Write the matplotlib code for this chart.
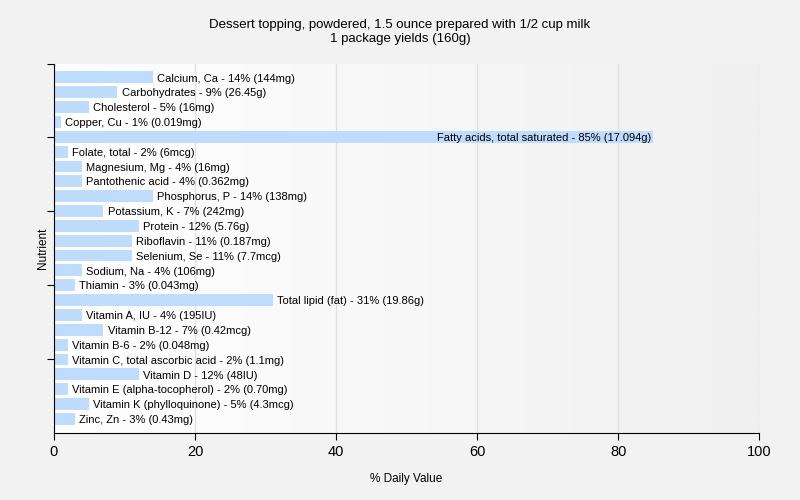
import numpy as np
from matplotlib import pyplot as plt
from matplotlib.colors import LinearSegmentedColormap

plt.rcParams['font.family'] = ['Liberation Sans', 'DejaVu Sans']

nutrients = ["Calcium, Ca", "Carbohydrates", "Cholesterol", "Copper, Cu",
             "Fatty acids, total saturated", "Folate, total", "Magnesium, Mg",
             "Pantothenic acid", "Phosphorus, P", "Potassium, K", "Protein",
             "Riboflavin", "Selenium, Se", "Sodium, Na", "Thiamin",
             "Total lipid (fat)", "Vitamin A, IU", "Vitamin B-12", "Vitamin B-6",
             "Vitamin C, total ascorbic acid", "Vitamin D",
             "Vitamin E (alpha-tocopherol)", "Vitamin K (phylloquinone)", "Zinc, Zn"]
percents = [14, 9, 5, 1, 85, 2, 4, 4, 14, 7, 12, 11, 11, 4, 3, 31, 4, 7, 2, 2, 12, 2, 5, 3]
amounts = ["144mg", "26.45g", "16mg", "0.019mg", "17.094g", "6mcg", "16mg", "0.362mg",
           "138mg", "242mg", "5.76g", "0.187mg", "7.7mcg", "106mg", "0.043mg", "19.86g",
           "195IU", "0.42mcg", "0.048mg", "1.1mg", "48IU", "0.70mg", "4.3mcg", "0.43mg"]

fig = plt.figure(figsize=(8, 5), dpi=100, facecolor="#f2f2f2")
ax = fig.add_axes([0.0675, 0.134, 0.8815, 0.738])

# gradient background, white on the left to light grey on the right
grad = np.linspace(0, 1, 256).reshape(1, -1)
bg = LinearSegmentedColormap.from_list("bg", ["#ffffff", "#f0f0f0"])
ax.imshow(grad, aspect="auto", extent=[0, 100, 23.95, -0.9], cmap=bg, zorder=0)

y = np.arange(len(nutrients))
ax.barh(y, percents, height=0.8, color="#bfdcfc", zorder=2)

for i, (n, p, a) in enumerate(zip(nutrients, percents, amounts)):
    label = f"{n} - {p}% ({a})"
    if p > 60:
        ax.text(p - 0.3, i + 0.08, label, ha="right", va="center", fontsize=8, zorder=3)
    else:
        ax.text(p + 0.6, i + 0.08, label, ha="left", va="center", fontsize=8, zorder=3)

ax.set_xlim(0, 100)
ax.set_ylim(23.95, -0.9)
ax.set_xticks([0, 20, 40, 60, 80, 100])
ax.tick_params(axis="x", labelsize=10.5, length=5)
ax.set_yticks([-0.9, 4, 9, 14, 19])
ax.set_yticklabels([])
ax.tick_params(axis="y", length=5)
ax.grid(axis="x", color="#e0e0e0", linewidth=1, zorder=1)
ax.set_axisbelow(True)
for s in ["top", "right"]:
    ax.spines[s].set_visible(False)

ax.set_xlabel("% Daily Value", fontsize=8.5, labelpad=10)
ax.set_ylabel("Nutrient", fontsize=8.5, labelpad=-5)
fig.suptitle("Dessert topping, powdered, 1.5 ounce prepared with 1/2 cup milk\n1 package yields (160g)",
             fontsize=9.5, y=0.962)

fig.savefig("out.png", dpi=100, facecolor=fig.get_facecolor())
